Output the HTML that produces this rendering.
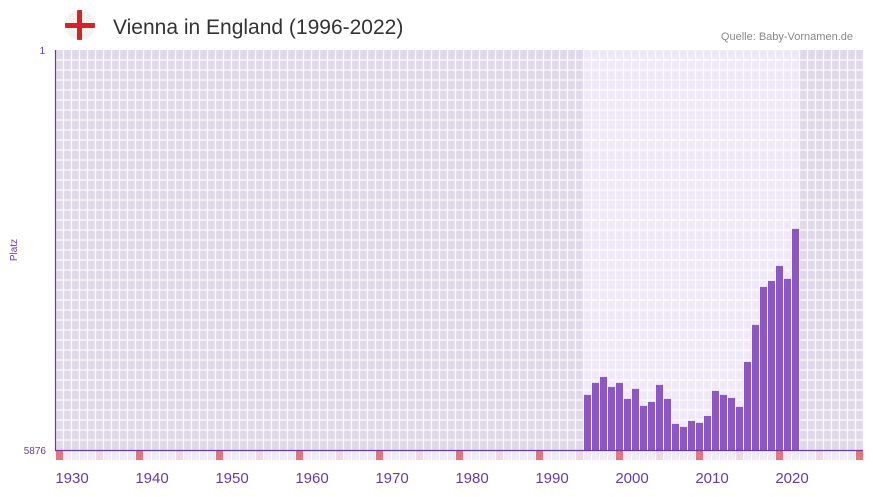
<!DOCTYPE html>
<html><head><meta charset="utf-8"><style>
body{margin:0;background:#fff;font-family:"Liberation Sans",sans-serif;}
</style></head><body>
<svg width="873" height="492" viewBox="0 0 873 492" xmlns="http://www.w3.org/2000/svg" id="chart">
<defs><clipPath id="fc"><circle cx="80" cy="25" r="15"/></clipPath></defs>
<g clip-path="url(#fc)">
<circle cx="80" cy="25" r="15" fill="#f2f2f2"/>
<rect x="77" y="10" width="5" height="30" fill="#d5202e"/>
<rect x="65" y="23" width="30" height="5" fill="#d5202e"/>
</g>
<text x="113" y="34" font-size="21" fill="#333">Vienna in England (1996-2022)</text>
<text x="853" y="40" font-size="11" fill="#888" text-anchor="end">Quelle: Baby-Vornamen.de</text>
<text x="17" y="250" font-size="10" fill="#6a3aa8" transform="rotate(-90 17 250)" text-anchor="middle">Platz</text>
<text x="45" y="54" font-size="10" fill="#6a3aa8" text-anchor="end">1</text>
<text x="46" y="454" font-size="10" fill="#6a3aa8" text-anchor="end">5876</text>
<g id="grid"></g>
<g id="bars"></g>
<g id="strip"></g>
<g id="xlabels"></g>
<line x1="55.5" y1="50" x2="55.5" y2="451" stroke="#6a3aa8" stroke-width="1.2"/>
<line x1="55" y1="450.5" x2="863" y2="450.5" stroke="#6a3aa8" stroke-width="1.2"/>
</svg>
<script>
const years=[1996,1997,1998,1999,2000,2001,2002,2003,2004,2005,2006,2007,2008,2009,2010,2011,2012,2013,2014,2015,2016,2017,2018,2019,2020,2021,2022];
const ranks=[5067,4891,4803,4950,4891,5126,4979,5229,5170,4920,5126,5493,5537,5449,5478,5376,5008,5067,5111,5243,4583,4039,3481,3393,3173,3363,2629];
const tickYears=[1930,1940,1950,1960,1970,1980,1990,2000,2010,2020];
const rankMin=1, rankMax=5876;
const NS="http://www.w3.org/2000/svg";
const X0=56, CW=8, Y0=50, Y1=450;
function xCell(i){return X0+i*CW;}
function xLabel(y){return X0+(y-1928)*CW;}
function xBar(y){return X0+(y-1930)*CW;}
function yScale(r){return Y0+(r-rankMin)/(rankMax-rankMin)*(Y1-Y0);}
function mk(t,a){const e=document.createElementNS(NS,t);for(const k in a)e.setAttribute(k,a[k]);return e;}
const grid=document.getElementById('grid');
const bg=mk('rect',{x:55,y:50,width:808,height:400,fill:'#e0d9eb'});


grid.appendChild(bg);
const hl=mk('rect',{x:xBar(years[0]),y:50,width:years.length*CW,height:400,fill:'#eee8f9'});


grid.appendChild(hl);
for(let i=0;i<=101;i++){const l=mk('line',{x1:xCell(i)-0.5,y1:50,x2:xCell(i)-0.5,y2:450,stroke:'#fff','stroke-width':1.3,opacity:0.9});


grid.appendChild(l);}
for(let j=1;j<40;j++){const l=mk('line',{x1:55,y1:50+j*10,x2:863,y2:50+j*10,stroke:'#fff','stroke-width':1.3,opacity:0.9});


grid.appendChild(l);}
const bars=document.getElementById('bars');
years.forEach((y,i)=>{const top=yScale(ranks[i]);const r=mk('rect',{x:xBar(y),y:top,width:7,height:450-top,fill:'#8b56c6'});


bars.appendChild(r);});
const strip=document.getElementById('strip');
for(let i=0;i<101;i++){const yr=1928+i;const m=yr%10;const c=m===8?'#e5747d':(m===3?'#f3d6e0':'#efeaf8');
const r=mk('rect',{x:xCell(i),y:451,width:7,height:9,fill:c});


strip.appendChild(r);}
const xl=document.getElementById('xlabels');
tickYears.forEach(y=>{const t=mk('text',{x:xLabel(y),y:483,'font-size':15,fill:'#6a3aa8','text-anchor':'middle'});t.textContent=y;


xl.appendChild(t);});
</script>
</body></html>
